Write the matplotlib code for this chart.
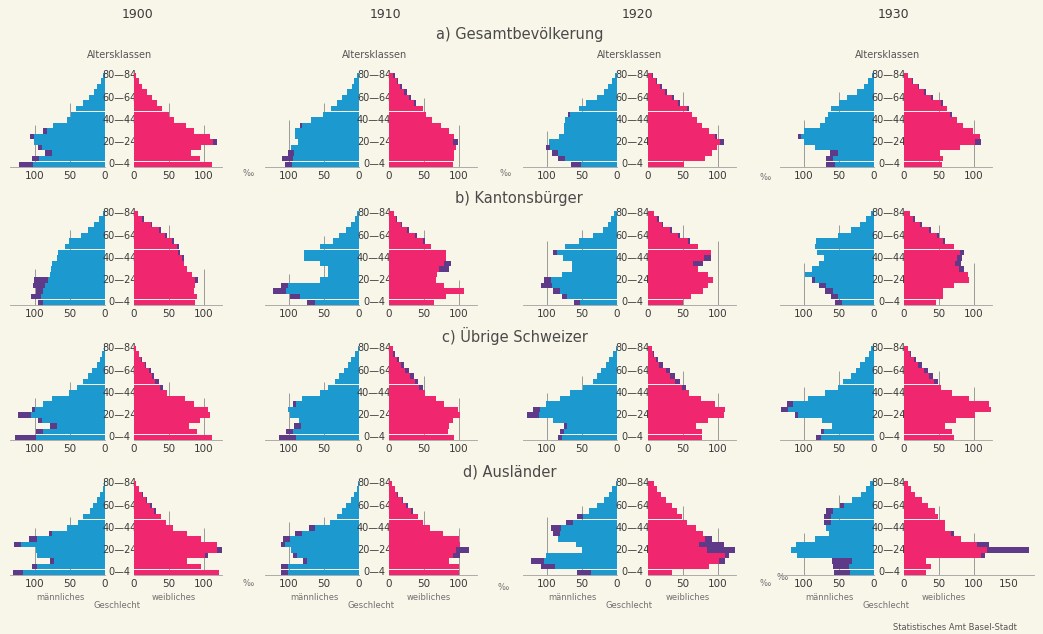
import matplotlib
matplotlib.use("Agg")
import matplotlib.pyplot as plt

plt.rcParams["font.family"] = ["Liberation Sans Narrow", "DejaVu Sans"]

# Jahre (Spalten) und Abschnitte (Zeilen)
years = ["1900", "1910", "1920", "1930"]
sections = ["a) Gesamtbevölkerung", "b) Kantonsbürger", "c) Übrige Schweizer", "d) Ausländer"]
age_labels = ["0—4", "20—24", "40—44", "60—64", "80—84"]
age_label_pos = [0, 4, 8, 12, 16]

# Werte in Promille, je Altersklasse 0-4 ... 80-84 (17 Klassen)
male_a = [
    [123, 105, 86, 95, 102, 107, 88, 74, 55, 48, 41, 31, 23, 16, 11, 6, 3],
    [106, 110, 101, 97, 87, 92, 92, 85, 68, 51, 40, 32, 25, 17, 10, 7, 3],
    [66, 85, 93, 101, 97, 83, 76, 76, 74, 70, 55, 44, 28, 19, 13, 7, 3],
    [68, 68, 63, 84, 100, 109, 100, 77, 70, 66, 61, 50, 38, 24, 15, 8, 3],
]
male_a_purple = [
    [20, 10, 10, 5, 0, 5, 5, 0, 0, 0, 0, 0, 0, 0, 0, 0, 0],
    [10, 15, 8, 0, 0, 0, 0, 3, 0, 0, 0, 0, 0, 0, 0, 0, 0],
    [15, 10, 8, 5, 0, 0, 0, 0, 0, 3, 0, 0, 0, 0, 0, 0, 0],
    [12, 10, 12, 0, 0, 4, 0, 0, 0, 0, 0, 0, 0, 0, 0, 0, 0],
]
female_a = [
    [111, 94, 81, 96, 118, 108, 86, 74, 57, 50, 40, 33, 25, 18, 12, 7, 3],
    [91, 93, 93, 95, 98, 93, 86, 74, 62, 53, 48, 39, 32, 25, 18, 13, 8],
    [51, 82, 91, 99, 108, 99, 87, 77, 70, 63, 58, 46, 37, 27, 20, 13, 7],
    [54, 55, 51, 80, 110, 108, 99, 84, 75, 68, 61, 56, 42, 32, 22, 13, 6],
]
female_a_purple = [
    [0, 0, 0, 0, 5, 0, 0, 0, 0, 0, 0, 0, 0, 0, 0, 0, 0],
    [0, 0, 0, 0, 6, 0, 0, 0, 0, 0, 0, 3, 3, 3, 3, 2, 2],
    [0, 0, 0, 0, 5, 4, 0, 0, 0, 0, 3, 3, 3, 3, 3, 2, 2],
    [0, 0, 0, 0, 8, 0, 0, 0, 0, 3, 0, 3, 3, 3, 2, 2, 0],
]

male_b = [
    [96, 106, 98, 103, 101, 79, 77, 75, 69, 67, 57, 51, 35, 25, 16, 8, 3],
    [75, 99, 123, 111, 56, 44, 44, 56, 78, 78, 56, 37, 28, 18, 11, 6, 3],
    [62, 79, 91, 109, 105, 79, 65, 65, 77, 91, 74, 55, 34, 20, 13, 8, 4],
    [56, 61, 70, 79, 89, 98, 89, 79, 72, 82, 84, 83, 52, 33, 20, 11, 4],
]
male_b_purple = [
    [8, 15, 10, 17, 20, 0, 0, 0, 0, 0, 0, 0, 0, 0, 0, 0, 0],
    [12, 14, 19, 10, 0, 0, 0, 0, 0, 0, 0, 0, 0, 0, 0, 0, 0],
    [9, 8, 10, 16, 10, 0, 0, 0, 0, 5, 0, 0, 0, 0, 0, 0, 0],
    [10, 10, 12, 10, 5, 0, 0, 0, 0, 0, 0, 0, 0, 0, 0, 0, 0],
]
female_b = [
    [87, 90, 85, 87, 92, 83, 75, 71, 71, 66, 64, 57, 47, 38, 26, 14, 6],
    [64, 81, 107, 79, 67, 69, 86, 88, 81, 81, 60, 52, 40, 29, 19, 12, 7],
    [50, 62, 79, 86, 93, 86, 72, 79, 90, 90, 72, 60, 46, 34, 22, 15, 9],
    [46, 55, 55, 72, 93, 91, 86, 81, 83, 86, 72, 58, 50, 39, 25, 15, 8],
]
female_b_purple = [
    [0, 0, 0, 0, 5, 0, 0, 0, 3, 3, 3, 3, 3, 2, 2, 2, 0],
    [0, 0, 0, 0, 0, 0, 15, 10, 0, 0, 0, 3, 3, 3, 2, 2, 0],
    [0, 0, 0, 0, 0, 0, 0, 15, 10, 0, 0, 3, 3, 3, 2, 2, 0],
    [0, 0, 0, 0, 0, 0, 8, 8, 8, 6, 0, 3, 3, 3, 2, 2, 0],
]

male_c = [
    [128, 98, 79, 95, 124, 105, 88, 76, 52, 40, 31, 24, 18, 12, 7, 4, 1],
    [115, 105, 93, 86, 99, 101, 95, 81, 56, 44, 35, 28, 22, 16, 11, 6, 2],
    [85, 81, 76, 91, 129, 120, 101, 81, 67, 48, 35, 28, 23, 16, 11, 6, 2],
    [83, 76, 60, 74, 113, 133, 124, 95, 70, 51, 45, 33, 26, 20, 13, 7, 4],
]
male_c_purple = [
    [30, 10, 10, 5, 18, 5, 0, 0, 0, 0, 0, 0, 0, 0, 0, 0, 0],
    [25, 10, 10, 0, 0, 0, 5, 0, 0, 0, 0, 0, 0, 0, 0, 0, 0],
    [7, 5, 5, 0, 18, 10, 0, 0, 0, 0, 0, 0, 0, 0, 0, 0, 0],
    [7, 5, 0, 0, 5, 10, 8, 0, 0, 0, 0, 0, 0, 0, 0, 0, 0],
]
female_c = [
    [111, 90, 78, 94, 108, 106, 85, 73, 47, 42, 35, 28, 24, 17, 12, 7, 3],
    [93, 84, 86, 91, 102, 98, 79, 67, 51, 48, 42, 35, 28, 21, 14, 8, 5],
    [77, 77, 68, 85, 108, 110, 96, 75, 59, 54, 45, 38, 31, 21, 14, 9, 6],
    [72, 69, 58, 74, 102, 124, 121, 93, 69, 53, 48, 41, 34, 25, 17, 10, 6],
]
female_c_purple = [
    [0, 0, 0, 0, 0, 0, 0, 0, 0, 5, 5, 3, 3, 2, 2, 0, 0],
    [0, 0, 0, 0, 0, 0, 0, 0, 0, 5, 5, 5, 5, 4, 3, 2, 0],
    [0, 0, 0, 0, 0, 0, 0, 0, 0, 5, 6, 6, 6, 5, 3, 2, 0],
    [0, 0, 0, 0, 0, 0, 0, 0, 0, 0, 5, 5, 5, 5, 3, 2, 0],
]

male_d = [
    [132, 104, 78, 97, 99, 130, 109, 80, 54, 39, 32, 22, 17, 11, 7, 3, 2],
    [111, 111, 80, 94, 97, 111, 108, 92, 71, 42, 31, 24, 18, 12, 7, 3, 1],
    [57, 109, 123, 101, 50, 59, 85, 92, 94, 73, 57, 40, 28, 19, 12, 7, 2],
    [57, 59, 60, 110, 119, 112, 85, 64, 69, 71, 71, 69, 48, 31, 18, 11, 6],
]
male_d_purple = [
    [15, 7, 5, 0, 0, 10, 12, 5, 0, 0, 0, 0, 0, 0, 0, 0, 0],
    [9, 10, 5, 5, 0, 5, 10, 10, 8, 0, 0, 0, 0, 0, 0, 0, 0],
    [20, 20, 19, 0, 0, 0, 0, 10, 14, 10, 8, 0, 0, 0, 0, 0, 0],
    [23, 23, 28, 0, 0, 0, 0, 0, 0, 9, 10, 10, 5, 0, 0, 0, 0],
]
female_d = [
    [121, 95, 76, 105, 136, 119, 95, 76, 55, 45, 38, 32, 26, 19, 13, 7, 3],
    [100, 100, 86, 102, 114, 102, 100, 77, 58, 48, 41, 34, 27, 20, 13, 8, 4],
    [34, 87, 110, 115, 124, 108, 92, 78, 69, 55, 48, 41, 34, 25, 18, 13, 8],
    [32, 39, 32, 115, 178, 122, 82, 72, 58, 58, 49, 44, 34, 25, 15, 10, 6],
]
female_d_purple = [
    [0, 0, 0, 3, 18, 0, 0, 0, 0, 0, 0, 4, 3, 2, 2, 0, 0],
    [0, 0, 0, 10, 18, 0, 0, 0, 0, 0, 0, 3, 3, 2, 2, 0, 0],
    [0, 0, 8, 5, 40, 35, 10, 0, 0, 0, 0, 0, 0, 0, 0, 0, 0],
    [0, 0, 0, 5, 60, 18, 0, 5, 0, 0, 0, 0, 0, 0, 0, 0, 0],
]

male_rows = [male_a, male_b, male_c, male_d]
male_purple_rows = [male_a_purple, male_b_purple, male_c_purple, male_d_purple]
female_rows = [female_a, female_b, female_c, female_d]
female_purple_rows = [female_a_purple, female_b_purple, female_c_purple, female_d_purple]

BLUE = "#1c9ad0"
PINK = "#f0266f"
PURPLE = "#5f3a88"
BG = "#f8f5e9"
TEXT = "#3a3a3a"
LIGHT = "#707070"

W, H = 1043, 634
SCALE = 0.70      # Pixel je Promille
BAR_H = 5.55      # Pixel je Altersklasse
male_zero = [105, 359, 617, 874]
female_zero = [134, 389, 648, 904]
baseline = [167, 305, 440, 575]


def add_px_axes(fig, left, bottom, width, height):
    return fig.add_axes([left / W, 1 - bottom / H, width / W, height / H])


def grid_top(values, g):
    idx = [i for i, v in enumerate(values) if v >= g * 0.9]
    if not idx:
        return None
    return min(max(idx) + 2.0, 16.5)


def draw_side(ax, values, purple, color, ticks, xmax, inverted):
    y = list(range(len(values)))
    inner = [v - p for v, p in zip(values, purple)]
    ax.barh(y, inner, height=0.97, color=color, linewidth=0, zorder=2)
    ax.barh(y, purple, left=inner, height=0.97, color=PURPLE, linewidth=0, zorder=2)
    for g in (50, 100):
        top = grid_top(values, g)
        if top is not None:
            ax.vlines(g, -0.5, top, color="#8c8c8c", lw=0.6, zorder=1)
    ax.set_ylim(-0.5, 16.5)
    if inverted:
        ax.set_xlim(xmax, 0)
    else:
        ax.set_xlim(0, xmax)
    ax.set_xticks(ticks)
    ax.set_xticklabels([str(t) for t in ticks])
    ax.set_yticks([])
    ax.tick_params(axis="x", length=0, pad=3, labelsize=7.5, colors=TEXT)
    for s in ("top", "left", "right"):
        ax.spines[s].set_visible(False)
    ax.spines["bottom"].set_color("#a0a0a0")
    ax.spines["bottom"].set_linewidth(0.6)
    ax.patch.set_alpha(0)


fig = plt.figure(figsize=(W / 100, H / 100), dpi=100)
fig.patch.set_facecolor(BG)

for r in range(4):
    for c in range(4):
        m = male_rows[r][c]
        f = female_rows[r][c]
        xm = 135
        xf = 185 if max(f) > 150 else 125
        ax_m = add_px_axes(fig, male_zero[c] - xm * SCALE, baseline[r], xm * SCALE, 17 * BAR_H)
        ax_f = add_px_axes(fig, female_zero[c], baseline[r], xf * SCALE, 17 * BAR_H)
        draw_side(ax_m, m, male_purple_rows[r][c], BLUE, [100, 50, 0], xm, True)
        f_ticks = [0, 50, 100, 150] if xf > 160 else [0, 50, 100]
        draw_side(ax_f, f, female_purple_rows[r][c], PINK, f_ticks, xf, False)

        gap = (female_zero[c] - male_zero[c]) / SCALE
        for pos, lab in zip(age_label_pos, age_labels):
            ax_m.text(-gap / 2, pos, lab, ha="center", va="center", fontsize=7,
                      color=TEXT, clip_on=False)

# Jahreszahlen und Überschriften
year_x = [138, 385, 637, 893]
for x, yr in zip(year_x, years):
    fig.text(x / W, 1 - 14 / H, yr, ha="center", va="center", fontsize=9, color=TEXT)

section_pos = [(520, 34), (519, 198), (515, 336), (510, 472)]
for (x, y), s in zip(section_pos, sections):
    fig.text(x / W, 1 - y / H, s, ha="center", va="center", fontsize=10.5, color="#4a4a4a")

alters_x = [120, 375, 630, 888]
for x in alters_x:
    fig.text(x / W, 1 - 55 / H, "Altersklassen", ha="center", va="center", fontsize=7, color="#555555")

permille = [(248, 173), (505, 173), (765, 177), (248, 583), (503, 587), (765, 583), (782, 578)]
for x, y in permille:
    fig.text(x / W, 1 - y / H, "‰", ha="center", va="center", fontsize=6, color=LIGHT)

for c in range(4):
    mx = male_zero[c] - 45
    fx = female_zero[c] + 40
    fig.text(mx / W, 1 - 597 / H, "männliches", ha="center", va="center", fontsize=6, color=LIGHT)
    fig.text(fx / W, 1 - 597 / H, "weibliches", ha="center", va="center", fontsize=6, color=LIGHT)
    fig.text((male_zero[c] + 12) / W, 1 - 606 / H, "Geschlecht", ha="center", va="center",
             fontsize=6, color=LIGHT)

fig.text(955 / W, 1 - 628 / H, "Statistisches Amt Basel-Stadt", ha="center", va="center",
         fontsize=6, color="#555555")

fig.savefig("out.png", dpi=100, facecolor=BG)
